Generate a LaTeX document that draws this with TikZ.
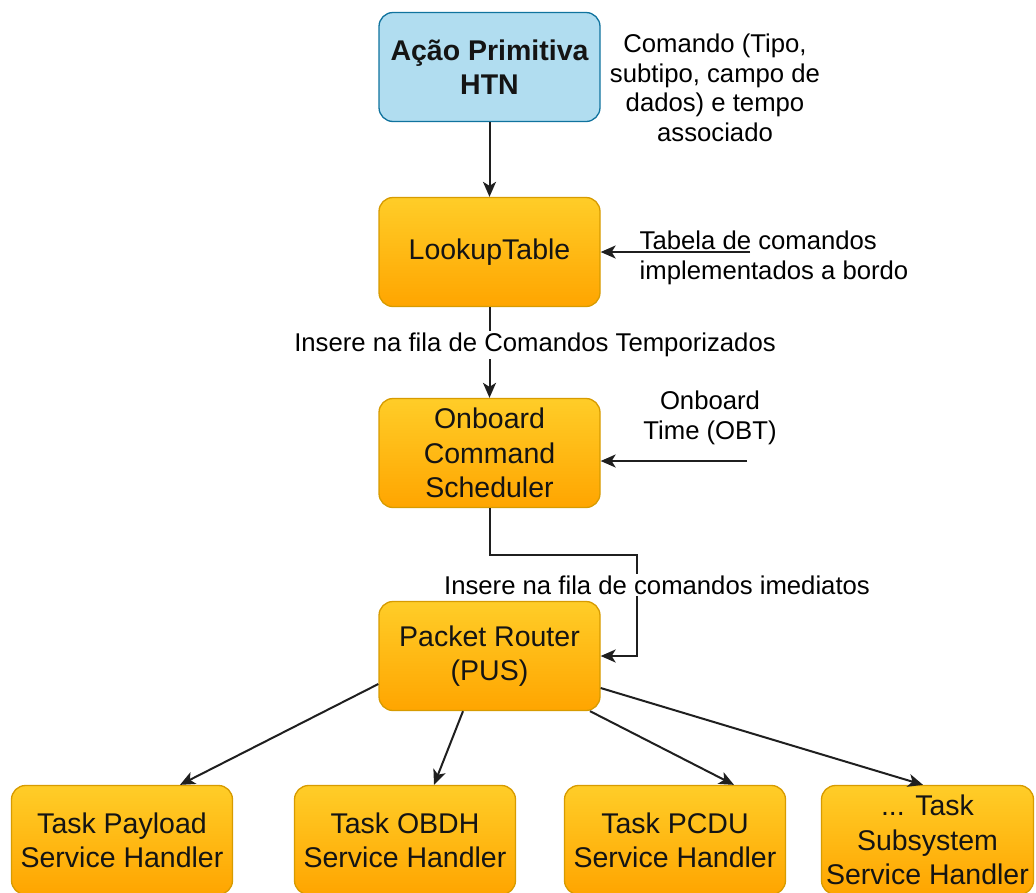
\documentclass[tikz,border=0pt]{standalone}
\usepackage{fontspec}
\setmainfont{Liberation Sans}
\usetikzlibrary{arrows.meta,shadings}
\definecolor{boxtop}{HTML}{FFCD28}
\definecolor{boxbot}{HTML}{FFA500}
\definecolor{boxline}{HTML}{D79B00}
\definecolor{bluefill}{HTML}{B1DDF0}
\definecolor{blueline}{HTML}{10739E}
\definecolor{txt}{HTML}{141414}
\tikzset{
  procbox/.style={draw=boxline, line width=1.3pt, rounded corners=14pt,
    top color=boxtop, bottom color=boxbot, minimum width=221pt,
    minimum height=109pt, align=center, text=txt, inner sep=2pt,
    font=\fontsize{28.5}{34.4}\selectfont},
  startbox/.style={procbox, top color=bluefill, bottom color=bluefill,
    draw=blueline, font=\fontsize{28.5}{34.4}\selectfont\bfseries},
  note/.style={align=center, text=black, inner sep=1pt,
    font=\fontsize{25.7}{29.6}\selectfont},
  edgelabel/.style={note, fill=white, inner sep=2pt},
  arr/.style={draw=black!88, line width=2pt,
    -{Stealth[length=15pt, width=13pt, inset=4pt]}}
}
\begin{document}
\begin{tikzpicture}[x=1pt, y=-1pt]
  \useasboundingbox (0,0) rectangle (1036,892);

  % main chain of processing blocks
  \node[startbox] (htn) at (489.5,67)  {Ação Primitiva\\HTN};
  \node[procbox]  (lut) at (489.5,252) {LookupTable};
  \node[procbox]  (ocs) at (489.5,453) {Onboard\\Command\\Scheduler};
  \node[procbox]  (pr)  at (489.5,656) {Packet Router\\(PUS)};

  % service handlers
  \node[procbox] (b1) at (122,840)   {Task Payload\\Service Handler};
  \node[procbox] (b2) at (405,840)   {Task OBDH\\Service Handler};
  \node[procbox] (b3) at (675,840)   {Task PCDU\\Service Handler};
  \node[procbox, minimum width=212pt] (b4) at (927.5,840) {... Task\\Subsystem\\Service Handler};

  % side annotations
  \node[note] (cmd) at (715,88) {Comando (Tipo,\\subtipo, campo de\\dados) e tempo\\associado};
  \node[note, align=left] (tab) at (774,258) {Tabela de comandos\\implementados a bordo};
  \node[note] (obt) at (710,418) {Onboard\\Time (OBT)};

  % free ends of the incoming inputs and the bend points
  \coordinate (tabin) at (750,252);
  \coordinate (obtin) at (747,461);
  \coordinate (bend1) at (489.5,555);
  \coordinate (bend2) at (637,555);
  \coordinate (bend3) at (637,656);

  % connectors
  \draw[arr] (htn) -- (lut);
  \draw[arr] (tabin) -- (lut.east);
  \draw[arr] (obtin) -- ([yshift=-8pt]ocs.east);

  \draw[arr] (lut) -- (ocs);
  \node[edgelabel] (lbl1) at (535,345) {Insere na fila de Comandos Temporizados};

  \draw[arr] (ocs.south) -- (bend1) -- (bend2) -- (bend3) -- (pr.east);
  \node[edgelabel] (lbl2) at (657,585) {Insere na fila de comandos imediatos};

  \draw[arr] ([yshift=-28pt]pr.west) -- ([xshift=58pt]b1.north);
  \draw[arr] ([xshift=-26.5pt]pr.south) -- ([xshift=29pt]b2.north);
  \draw[arr] ([xshift=100.5pt]pr.south) -- ([xshift=59pt]b3.north);
  \draw[arr] ([yshift=-32pt]pr.east) -- ([xshift=-4.5pt]b4.north);
\end{tikzpicture}
\end{document}
